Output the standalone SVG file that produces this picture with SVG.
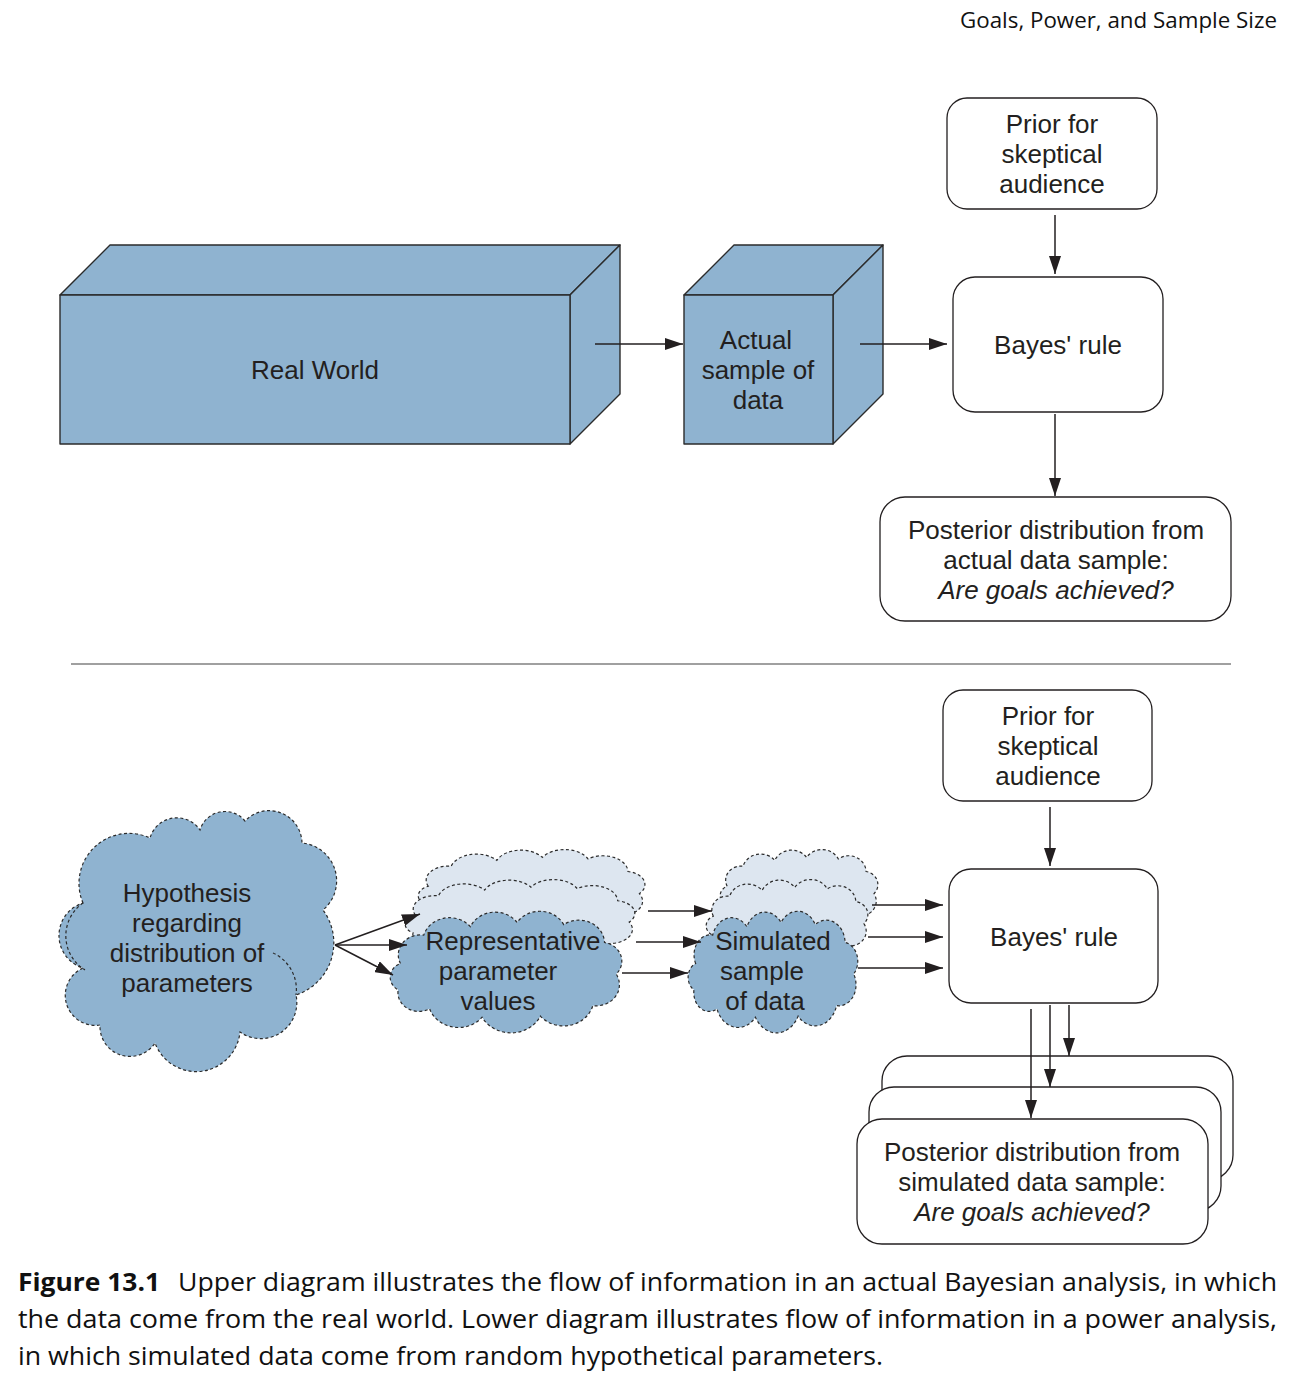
<svg xmlns="http://www.w3.org/2000/svg" xmlns:xlink="http://www.w3.org/1999/xlink" width="1292" height="1378" viewBox="0 0 1292 1378">
<style>
.lbl{font-family:"Liberation Sans",Arial,sans-serif;font-size:26px;fill:#231f20;text-anchor:middle}
.it{font-style:italic}
.box{fill:#fff;stroke:#231f20;stroke-width:1.3}
.cube{fill:#8fb3d0;stroke:#2b2b2b;stroke-width:1.4;stroke-linejoin:round}
.cloud{fill:#8fb3d0;stroke:#2b2b2b;stroke-width:1.2;stroke-dasharray:3 2.5}
.cloudL{fill:#dde6f0;stroke:#2b2b2b;stroke-width:1.2;stroke-dasharray:3 2.5}
.con{stroke:#231f20;stroke-width:1.5;fill:none;marker-end:url(#ah)}
.cap{font-family:"Open Sans","Noto Sans",sans-serif;font-size:25px;fill:#111}
</style>
<defs>
<marker id="ah" markerUnits="userSpaceOnUse" markerWidth="18" markerHeight="12" refX="18" refY="6" orient="auto">
<path d="M0,0 L18,6 L0,12 z" fill="#231f20"/>
</marker>
<path id="cl" vector-effect="non-scaling-stroke" d="M 10 45 A 19 19 0 0 1 30 18 A 23 23 0 0 1 70 10 A 23 23 0 0 1 110 6 A 23 23 0 0 1 150 8 A 22 22 0 0 1 185 25 A 18 18 0 0 1 195 55 A 20 20 0 0 1 175 85 A 26 26 0 0 1 130 95 A 28 28 0 0 1 80 96 A 26 26 0 0 1 35 88 A 18 18 0 0 1 8 70 A 14 14 0 0 1 10 45 Z"/>
</defs>
<rect width="1292" height="1378" fill="#fff"/>

<text x="1277" y="28" font-family="'Open Sans','Noto Sans',sans-serif" font-size="22" fill="#111" text-anchor="end" textLength="317" lengthAdjust="spacingAndGlyphs">Goals, Power, and Sample Size</text>

<g id="realWorld">
<polygon class="cube" points="60,295 110,245 620,245 570,295"/>
<polygon class="cube" points="570,295 620,245 620,394 570,444"/>
<rect class="cube" x="60" y="295" width="510" height="149"/>
<text class="lbl" x="315" y="379">Real World</text>
</g>

<g id="actualSample">
<polygon class="cube" points="684,295 734,245 883,245 833,295"/>
<polygon class="cube" points="833,295 883,245 883,394 833,444"/>
<rect class="cube" x="684" y="295" width="149" height="149"/>
<text class="lbl" x="756" y="349">Actual</text>
<text class="lbl" x="758" y="379">sample of</text>
<text class="lbl" x="758" y="409">data</text>
</g>

<g id="priorTop">
<rect class="box" x="947" y="98" width="210" height="111" rx="20"/>
<text class="lbl" x="1052" y="133">Prior for</text>
<text class="lbl" x="1052" y="163">skeptical</text>
<text class="lbl" x="1052" y="193">audience</text>
</g>

<g id="bayesTop">
<rect class="box" x="953" y="277" width="210" height="135" rx="22"/>
<text class="lbl" x="1058" y="354">Bayes' rule</text>
</g>

<g id="posteriorTop">
<rect class="box" x="880" y="497" width="351" height="124" rx="25"/>
<text class="lbl" x="1056" y="539">Posterior distribution from</text>
<text class="lbl" x="1056" y="569">actual data sample:</text>
<text class="lbl it" x="1056" y="599">Are goals achieved?</text>
</g>

<line x1="71" y1="664" x2="1231" y2="664" stroke="#808080" stroke-width="1.5"/>

<g id="hypothesis">
<path class="cloud" d="M 83 903 A 50 50 0 0 1 150 838 A 28 28 0 0 1 200 830 A 26 26 0 0 1 245 821 A 33 33 0 0 1 302 843 A 38 38 0 0 1 323 910 A 55 55 0 0 1 296 995 A 36 36 0 0 1 240 1032 A 44 44 0 0 1 155 1043 A 30 30 0 0 1 100 1025 A 30 30 0 0 1 83 968 A 34 34 0 0 1 83 903 Z"/>
<path d="M 273 953 A 40 40 0 0 1 296 995" fill="none" stroke="#2b2b2b" stroke-width="1.2" stroke-dasharray="3 2.5"/>
<path d="M 83 903 A 40 40 0 0 0 85 970" fill="none" stroke="#2b2b2b" stroke-width="1.2" stroke-dasharray="3 2.5"/>
<text class="lbl" x="187" y="902">Hypothesis</text>
<text class="lbl" x="187" y="932">regarding</text>
<text class="lbl" x="187" y="962">distribution of</text>
<text class="lbl" x="187" y="992">parameters</text>
</g>

<g id="representative">
<use xlink:href="#cl" class="cloudL" transform="translate(416.9,853) scale(1.141,0.739)"/>
<use xlink:href="#cl" class="cloudL" transform="translate(403.8,882.9) scale(1.156,0.713)"/>
<use xlink:href="#cl" class="cloud" transform="translate(388.8,916.2) scale(1.166,1.052)"/>
<text class="lbl" x="513" y="950">Representative</text>
<text class="lbl" x="498" y="980">parameter</text>
<text class="lbl" x="498" y="1010">values</text>
</g>

<g id="simulated">
<use xlink:href="#cl" class="cloudL" transform="translate(719.2,853) scale(0.794,0.739)"/>
<use xlink:href="#cl" class="cloudL" transform="translate(705.2,883) scale(0.814,0.739)"/>
<use xlink:href="#cl" class="cloud" transform="translate(687.1,916.2) scale(0.854,1.052)"/>
<text class="lbl" x="773" y="950">Simulated</text>
<text class="lbl" x="762" y="980">sample</text>
<text class="lbl" x="765" y="1010">of data</text>
</g>

<g id="priorBottom">
<rect class="box" x="943" y="690" width="209" height="111" rx="20"/>
<text class="lbl" x="1048" y="725">Prior for</text>
<text class="lbl" x="1048" y="755">skeptical</text>
<text class="lbl" x="1048" y="785">audience</text>
</g>

<g id="bayesBottom">
<rect class="box" x="949" y="869" width="209" height="134" rx="22"/>
<text class="lbl" x="1054" y="946">Bayes' rule</text>
</g>

<g id="posteriorBottom">
<rect class="box" x="882" y="1056" width="351" height="124" rx="25"/>
<rect class="box" x="869" y="1087" width="352" height="124" rx="25"/>
<rect class="box" x="857" y="1119" width="351" height="125" rx="25"/>
<text class="lbl" x="1032" y="1161">Posterior distribution from</text>
<text class="lbl" x="1032" y="1191">simulated data sample:</text>
<text class="lbl it" x="1032" y="1221">Are goals achieved?</text>
</g>

<g id="connectors">
<line class="con" x1="595" y1="344" x2="683" y2="344"/>
<line class="con" x1="860" y1="344" x2="947" y2="344"/>
<line class="con" x1="1055" y1="215" x2="1055" y2="274"/>
<line class="con" x1="1055" y1="414" x2="1055" y2="496"/>
<line class="con" x1="1050" y1="807" x2="1050" y2="866"/>
<line class="con" x1="335" y1="945" x2="420" y2="914"/>
<line class="con" x1="335" y1="945" x2="407" y2="945"/>
<line class="con" x1="335" y1="945" x2="393" y2="975"/>
<line class="con" x1="648" y1="911" x2="712" y2="911"/>
<line class="con" x1="636" y1="942" x2="701" y2="942"/>
<line class="con" x1="622" y1="973" x2="688" y2="973"/>
<line class="con" x1="872" y1="905" x2="943" y2="905"/>
<line class="con" x1="868" y1="937" x2="943" y2="937"/>
<line class="con" x1="858" y1="968" x2="943" y2="968"/>
<line class="con" x1="1031" y1="1009" x2="1031" y2="1118"/>
<line class="con" x1="1050" y1="1005" x2="1050" y2="1087"/>
<line class="con" x1="1069" y1="1005" x2="1069" y2="1056"/>
</g>

<text class="cap" x="18" y="1291" font-weight="bold" textLength="142" lengthAdjust="spacingAndGlyphs">Figure 13.1</text>
<text class="cap" x="178" y="1291" textLength="1099" lengthAdjust="spacingAndGlyphs">Upper diagram illustrates the flow of information in an actual Bayesian analysis, in which</text>
<text class="cap" x="18" y="1328" textLength="1259" lengthAdjust="spacingAndGlyphs">the data come from the real world. Lower diagram illustrates flow of information in a power analysis,</text>
<text class="cap" x="18" y="1365" textLength="865" lengthAdjust="spacingAndGlyphs">in which simulated data come from random hypothetical parameters.</text>
</svg>
